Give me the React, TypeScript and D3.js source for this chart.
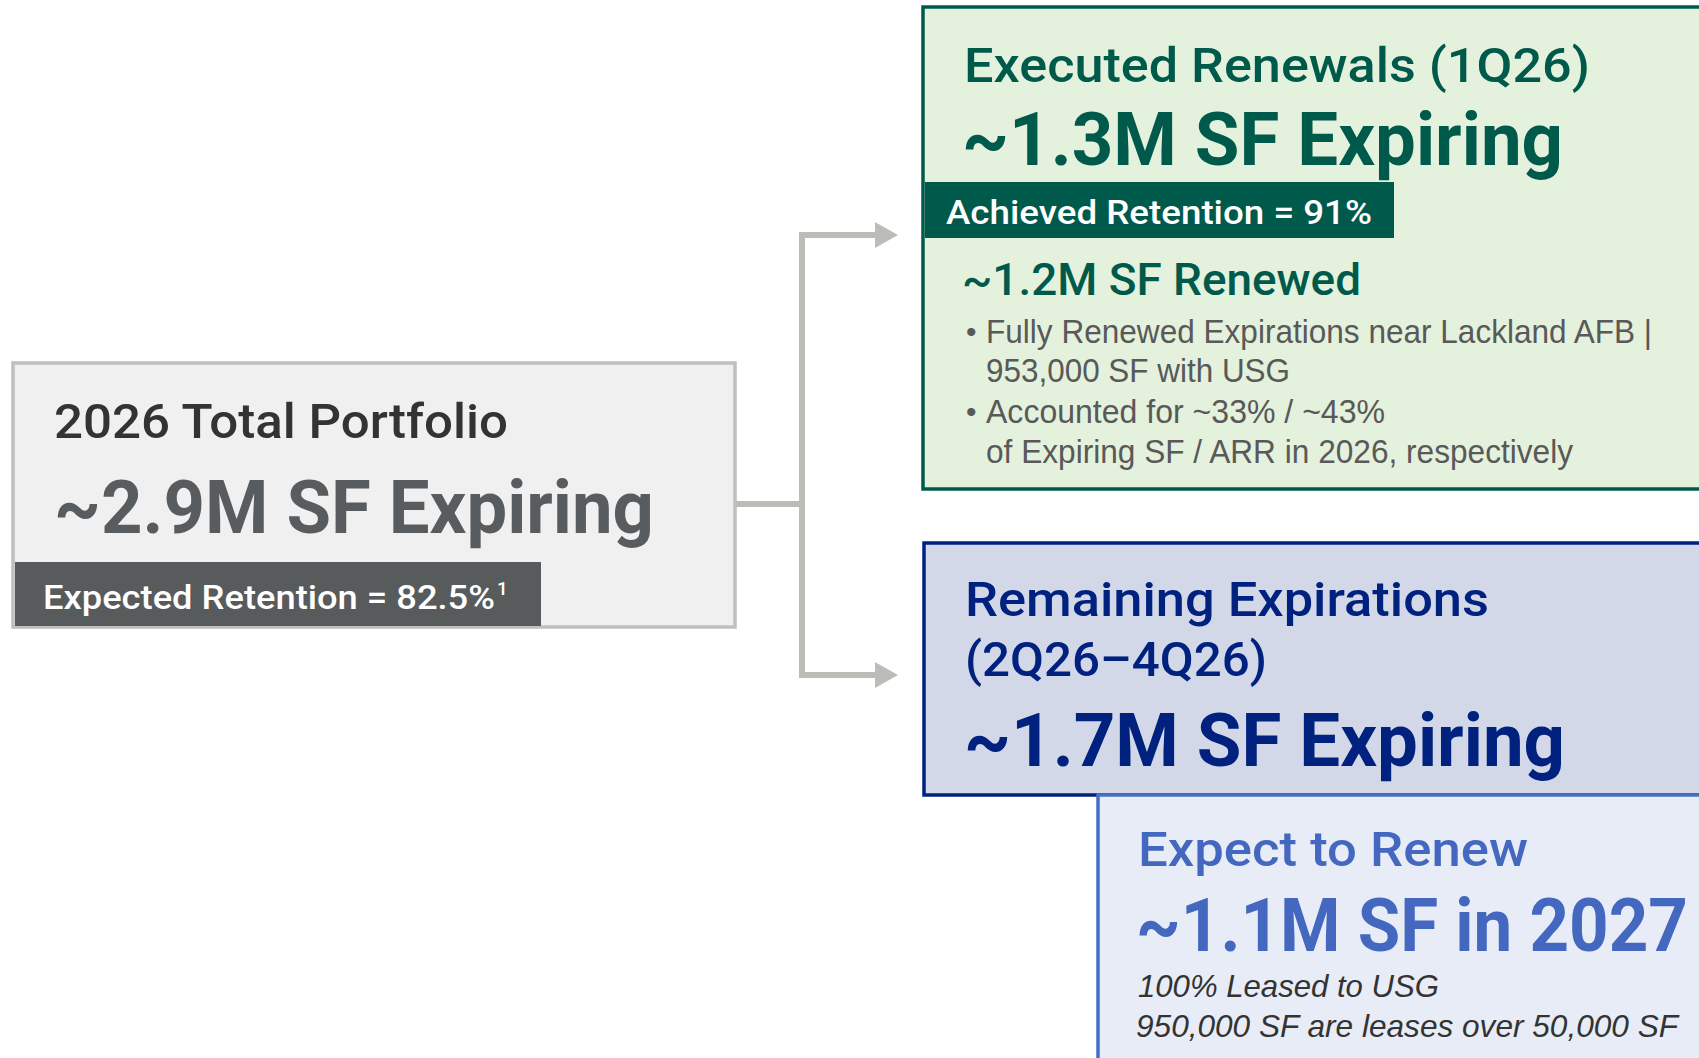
import * as d3 from "d3";
import React, { useEffect, useRef } from "react";

// text content of the diagram
const portfolioLines = ["2026 Total Portfolio", "~2.9M SF Expiring"];
const portfolioBar = ["Expected Retention = 82.5%", "1"];
const executedLines = ["Executed Renewals (1Q26)", "~1.3M SF Expiring"];
const executedBar = "Achieved Retention = 91%";
const renewedHead = "~1.2M SF Renewed";
const renewedBullets = [
  ["Fully Renewed Expirations near Lackland AFB |", "953,000 SF with USG"],
  ["Accounted for ~33% / ~43%", "of Expiring SF / ARR in 2026, respectively"],
];
const remainingLines = ["Remaining Expirations", "(2Q26\u20134Q26)", "~1.7M SF Expiring"];
const expectLines = ["Expect to Renew", "~1.1M SF in 2027"];
const expectNotes = ["100% Leased to USG", "950,000 SF are leases over 50,000 SF"];

const W = 1699, H = 1058;
const FONT = "Roboto, 'Noto Sans', sans-serif";
const BODY = "'Liberation Sans', Arial, sans-serif";

export default function App() {
  const ref = useRef<SVGSVGElement>(null);

  useEffect(() => {
    const svg = d3.select(ref.current);
    svg.selectAll("*").remove();

    const text = (s: string, x: number, y: number, size: number, weight: number, color: string,
      len?: number, italic = false, family = FONT) => {
      const t = svg.append("text")
        .attr("x", x).attr("y", y)
        .attr("font-family", family)
        .attr("font-size", size)
        .attr("font-weight", weight)
        .attr("font-style", italic ? "italic" : "normal")
        .attr("fill", color)
        .text(s);
      if (len) t.attr("textLength", len).attr("lengthAdjust", "spacingAndGlyphs");
      return t;
    };

    const box = (x: number, y: number, w: number, h: number, fill: string, stroke: string) =>
      svg.append("rect").attr("x", x).attr("y", y).attr("width", w).attr("height", h)
        .attr("fill", fill).attr("stroke", stroke).attr("stroke-width", 3.5);

    // connectors
    const grey = "#bcbcb8";
    const p = d3.path();
    p.moveTo(736, 504); p.lineTo(802, 504);
    p.moveTo(802, 235); p.lineTo(802, 675);
    p.moveTo(802, 235); p.lineTo(878, 235);
    p.moveTo(802, 675); p.lineTo(878, 675);
    svg.append("path").attr("d", p.toString()).attr("stroke", grey).attr("stroke-width", 6)
      .attr("fill", "none").attr("stroke-linecap", "square");
    [235, 675].forEach(y => {
      svg.append("path")
        .attr("d", d3.line()([[875, y - 13], [898, y], [875, y + 13]]) + "Z")
        .attr("fill", grey);
    });

    // left box: total portfolio
    box(13, 363, 722, 264, "#f0f0f0", "#bfbfbc");
    text(portfolioLines[0], 54, 438, 49, 500, "#333333", 454);
    text(portfolioLines[1], 54, 533, 75, 700, "#595c5e", 600);
    svg.append("rect").attr("x", 15).attr("y", 562).attr("width", 526).attr("height", 64).attr("fill", "#575b5c");
    text(portfolioBar[0], 43, 609, 34, 500, "#ffffff", 452);
    svg.append("text").attr("x", 43 + 454).attr("y", 595)
      .attr("font-family", FONT).attr("font-size", 19).attr("font-weight", 500)
      .attr("fill", "#ffffff").text(portfolioBar[1]);

    // green box: executed renewals
    const green = "#005a4b";
    box(923, 7, 800, 482, "#e4f1dc", green);
    text(executedLines[0], 964, 82, 49, 500, green, 626);
    text(executedLines[1], 962, 165, 75, 700, green, 601);
    svg.append("rect").attr("x", 925).attr("y", 182).attr("width", 469).attr("height", 56).attr("fill", green);
    text(executedBar, 946, 224, 34, 500, "#ffffff", 426);
    text(renewedHead, 962, 295, 45, 500, green, 399);
    const bulletY = [[343, 382], [423, 463]];
    const bulletW = [[666, 304], [399, 587]];
    renewedBullets.forEach((lines, i) => {
      text("\u2022", 966, bulletY[i][0] - 1, 30, 400, "#595959", undefined, false, BODY);
      lines.forEach((s, j) => text(s, 986, bulletY[i][j], 33, 400, "#595959", bulletW[i][j], false, BODY));
    });

    // navy box: remaining expirations
    const navy = "#01217f";
    box(924, 543, 800, 252, "#d2d8e8", navy);
    text(remainingLines[0], 965, 616, 49, 500, navy, 524);
    text(remainingLines[1], 965, 676, 49, 500, navy, 302);
    text(remainingLines[2], 964, 766, 75, 700, navy, 601);

    // light blue box: expect to renew
    const blue = "#4468c0";
    box(1098, 795, 700, 300, "#e8ecf7", "#4470c4");
    text(expectLines[0], 1138, 866, 49, 500, blue, 390);
    text(expectLines[1], 1136, 951, 75, 700, blue, 552);
    text(expectNotes[0], 1138, 997, 32, 400, "#333333", 301, true, BODY);
    text(expectNotes[1], 1136, 1037, 32, 400, "#333333", 542, true, BODY);
  }, []);

  return (
    <svg ref={ref} width={W} height={H}
      style={{ position: "absolute", left: 0, top: 0, display: "block", background: "#ffffff" }} />
  );
}
